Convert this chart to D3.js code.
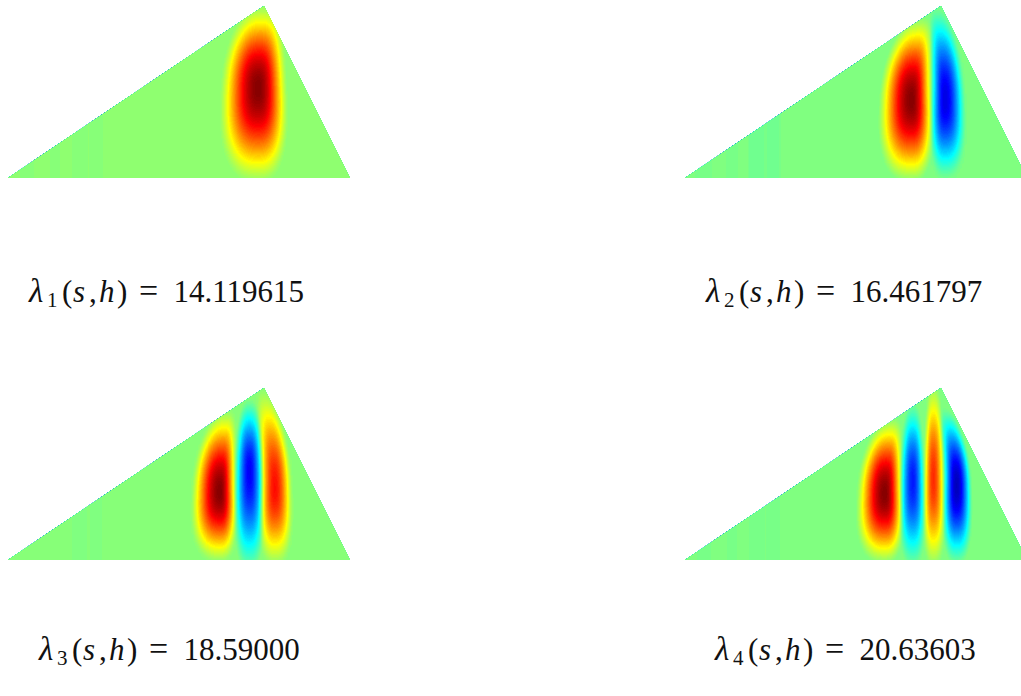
<!DOCTYPE html>
<html>
<head>
<meta charset="utf-8">
<script src="https://cdn.jsdelivr.net/npm/d3@7"></script>
<style>
html,body{margin:0;padding:0;background:#fff;overflow:hidden}
svg{display:block}
</style>
</head>
<body>
<svg id="chart" width="1021" height="696"></svg>
<script>
// Domain geometry: base length 100 units
const apexS = 74.85, apexH = 50.3, baseS = 100;

// Eigenvalue labels
const eigenIndex = ["1", "2", "3", "4"];
const eigenValues = ["14.119615", "16.461797", "18.59000", "20.63603"];

// Field level far from the lobes, per panel (0 = darkest blue, 1 = darkest red)
const backgroundLevels = [0.52, 0.5, 0.515, 0.505];

// Lobes:
// s, h, extent up, extent down, extent left, extent right, lean of the top, peak level
const lobes1 = [[73.2, 26.3, 19.4, 22.0, 8.8, 6.7, 1.0, 1.0]];
const lobes2 = [
  [66.3, 22.8, 19.2, 19.0, 7.5, 4.9, 1.9, 1.0],
  [76.0, 22.8, 20.0, 17.0, 3.2, 4.4, -1.5, 0.1]
];
const lobes3 = [
  [62.0, 19.9, 19.0, 16.3, 6.6, 3.9, 1.5, 1.0],
  [70.6, 26.2, 15.0, 21.5, 3.2, 3.1, 0.0, 0.12],
  [78.0, 20.8, 21.5, 16.5, 3.4, 3.8, -2.0, 0.87]
];
const lobes4 = [
  [58.5, 19.4, 17.5, 16.1, 6.5, 4.2, 1.5, 1.0],
  [66.6, 23.3, 16.0, 18.0, 2.75, 2.6, 0.0, 0.15],
  [72.6, 23.8, 20.0, 18.5, 2.1, 2.45, 0.0, 0.84],
  [79.4, 21.8, 17.0, 17.5, 3.1, 3.4, -2.0, 0.06]
];
const panelLobes = [lobes1, lobes2, lobes3, lobes4];

// Faint vertical streaks on the flat left part: from s, to s, level change
const streaks = [
  [3.5, 7.9, -0.006],
  [12.3, 15.2, -0.006],
  [18.7, 23.1, -0.012],
  [24.0, 27.8, -0.008]
];

// Panel layout
const W = 1021, H = 696;
const panelWidth = 342, panelHeight = 172;
const panelLeft = [8, 685, 8, 685];
const panelTop = [6, 6, 388, 388];
const labelLeft = [29, 706, 39, 715];
const labelBaseline = [302, 302, 660, 660];

const jet = d3.scaleLinear()
  .domain([0, 0.125, 0.375, 0.625, 0.875, 1])
  .range(["#000080", "#0000ff", "#00ffff", "#ffff00", "#ff0000", "#800000"])
  .clamp(true);

const svg = d3.select("#chart");
const defs = svg.append("defs");

const step = 0.5;
const nx = Math.round(106 / step) + 1;
const ny = Math.round(56 / step) + 1;
const gridS = i => -3 + i * step;
const gridH = j => -3 + j * step;
const thresholds = d3.range(0, 129).map(i => i / 128);

const squareness = 2.5, tailPower = 1.35;

function lobeRadius(l, s, h) {
  const [cs, ch, up, down, left, right, lean] = l;
  const dh = h - ch;
  const u = dh > 0 ? dh / up : dh / down;      // +1 at the top
  const shift = u > 0 ? lean * u * u : 0;
  const taper = 1 - 0.12 * u;
  const dx = s - cs - shift;
  const xx = dx / ((dx > 0 ? right : left) * taper);
  return Math.pow(Math.pow(Math.abs(xx), squareness) + Math.pow(Math.abs(u), squareness), 1 / squareness);
}

function edgeRadius(peak, bg) {
  const edge = peak > bg ? 0.625 : 0.375;
  const f = Math.max(0, Math.min(1, (edge - bg) / (peak - bg)));
  return (2 / Math.PI) * Math.acos(Math.pow(f, 1 / tailPower));
}

panelLobes.forEach((lobes, p) => {
  const bg = backgroundLevels[p];
  const x = d3.scaleLinear().domain([0, baseS]).range([panelLeft[p], panelLeft[p] + panelWidth]);
  const y = d3.scaleLinear().domain([0, apexH]).range([panelTop[p] + panelHeight, panelTop[p]]);

  const values = new Float64Array(nx * ny);
  for (let j = 0; j < ny; j++) {
    for (let i = 0; i < nx; i++) {
      const s = gridS(i), h = gridH(j);
      let v = bg;
      streaks.forEach(t => { if (s >= t[0] && s < t[1]) v += t[2]; });
      lobes.forEach(l => {
        const peak = l[7];
        const r = lobeRadius(l, s, h) * edgeRadius(peak, bg);
        if (r < 1) v += (peak - bg) * Math.pow(Math.cos(Math.PI / 2 * r), tailPower);
      });
      values[j * nx + i] = v;
    }
  }

  const contours = d3.contours().size([nx, ny]).thresholds(thresholds)(values);
  const path = d3.geoPath(d3.geoTransform({
    point(a, b) { this.stream.point(x(gridS(a - 0.5)), y(gridH(b - 0.5))); }
  }));

  const clipId = "tri" + p;
  const corners = [[0, 0], [apexS, apexH], [baseS, 0]];
  defs.append("clipPath").attr("id", clipId).append("path")
    .attr("d", d3.line().x(d => x(d[0])).y(d => y(d[1])).curve(d3.curveLinearClosed)(corners));

  svg.append("g").attr("clip-path", `url(#${clipId})`)
    .selectAll("path").data(contours.filter(c => c.coordinates.length)).join("path")
    .attr("d", path)
    .attr("fill", d => jet(d.value))
    .attr("stroke", "none")
    .attr("shape-rendering", "crispEdges");
});

// Label pieces: text, offset, font size, italic, subscript drop
eigenValues.forEach((val, p) => {
  const pieces = [
    ["\u03BB", 0, 33, true, 0],
    [eigenIndex[p], 18, 21, false, 5],
    ["(", 33, 31, false, 0],
    ["s", 44, 31, true, 0],
    [",", 60, 31, false, 0],
    ["h", 70, 31, true, 0],
    [")", 88, 31, false, 0],
    ["=", 110, 34, false, 0],
    [val, 144.5, 31, false, 0]
  ];
  const g = svg.append("g").attr("transform", `translate(${labelLeft[p]},${labelBaseline[p]})`);
  g.selectAll("text").data(pieces).join("text")
    .attr("x", d => d[1])
    .attr("y", d => d[4])
    .attr("fill", "#111")
    .style("font-family", "'Liberation Serif','Times New Roman',Times,'DejaVu Serif',serif")
    .style("font-size", d => d[2] + "px")
    .style("font-style", d => d[3] ? "italic" : "normal")
    .text(d => d[0]);
});
</script>
</body>
</html>
